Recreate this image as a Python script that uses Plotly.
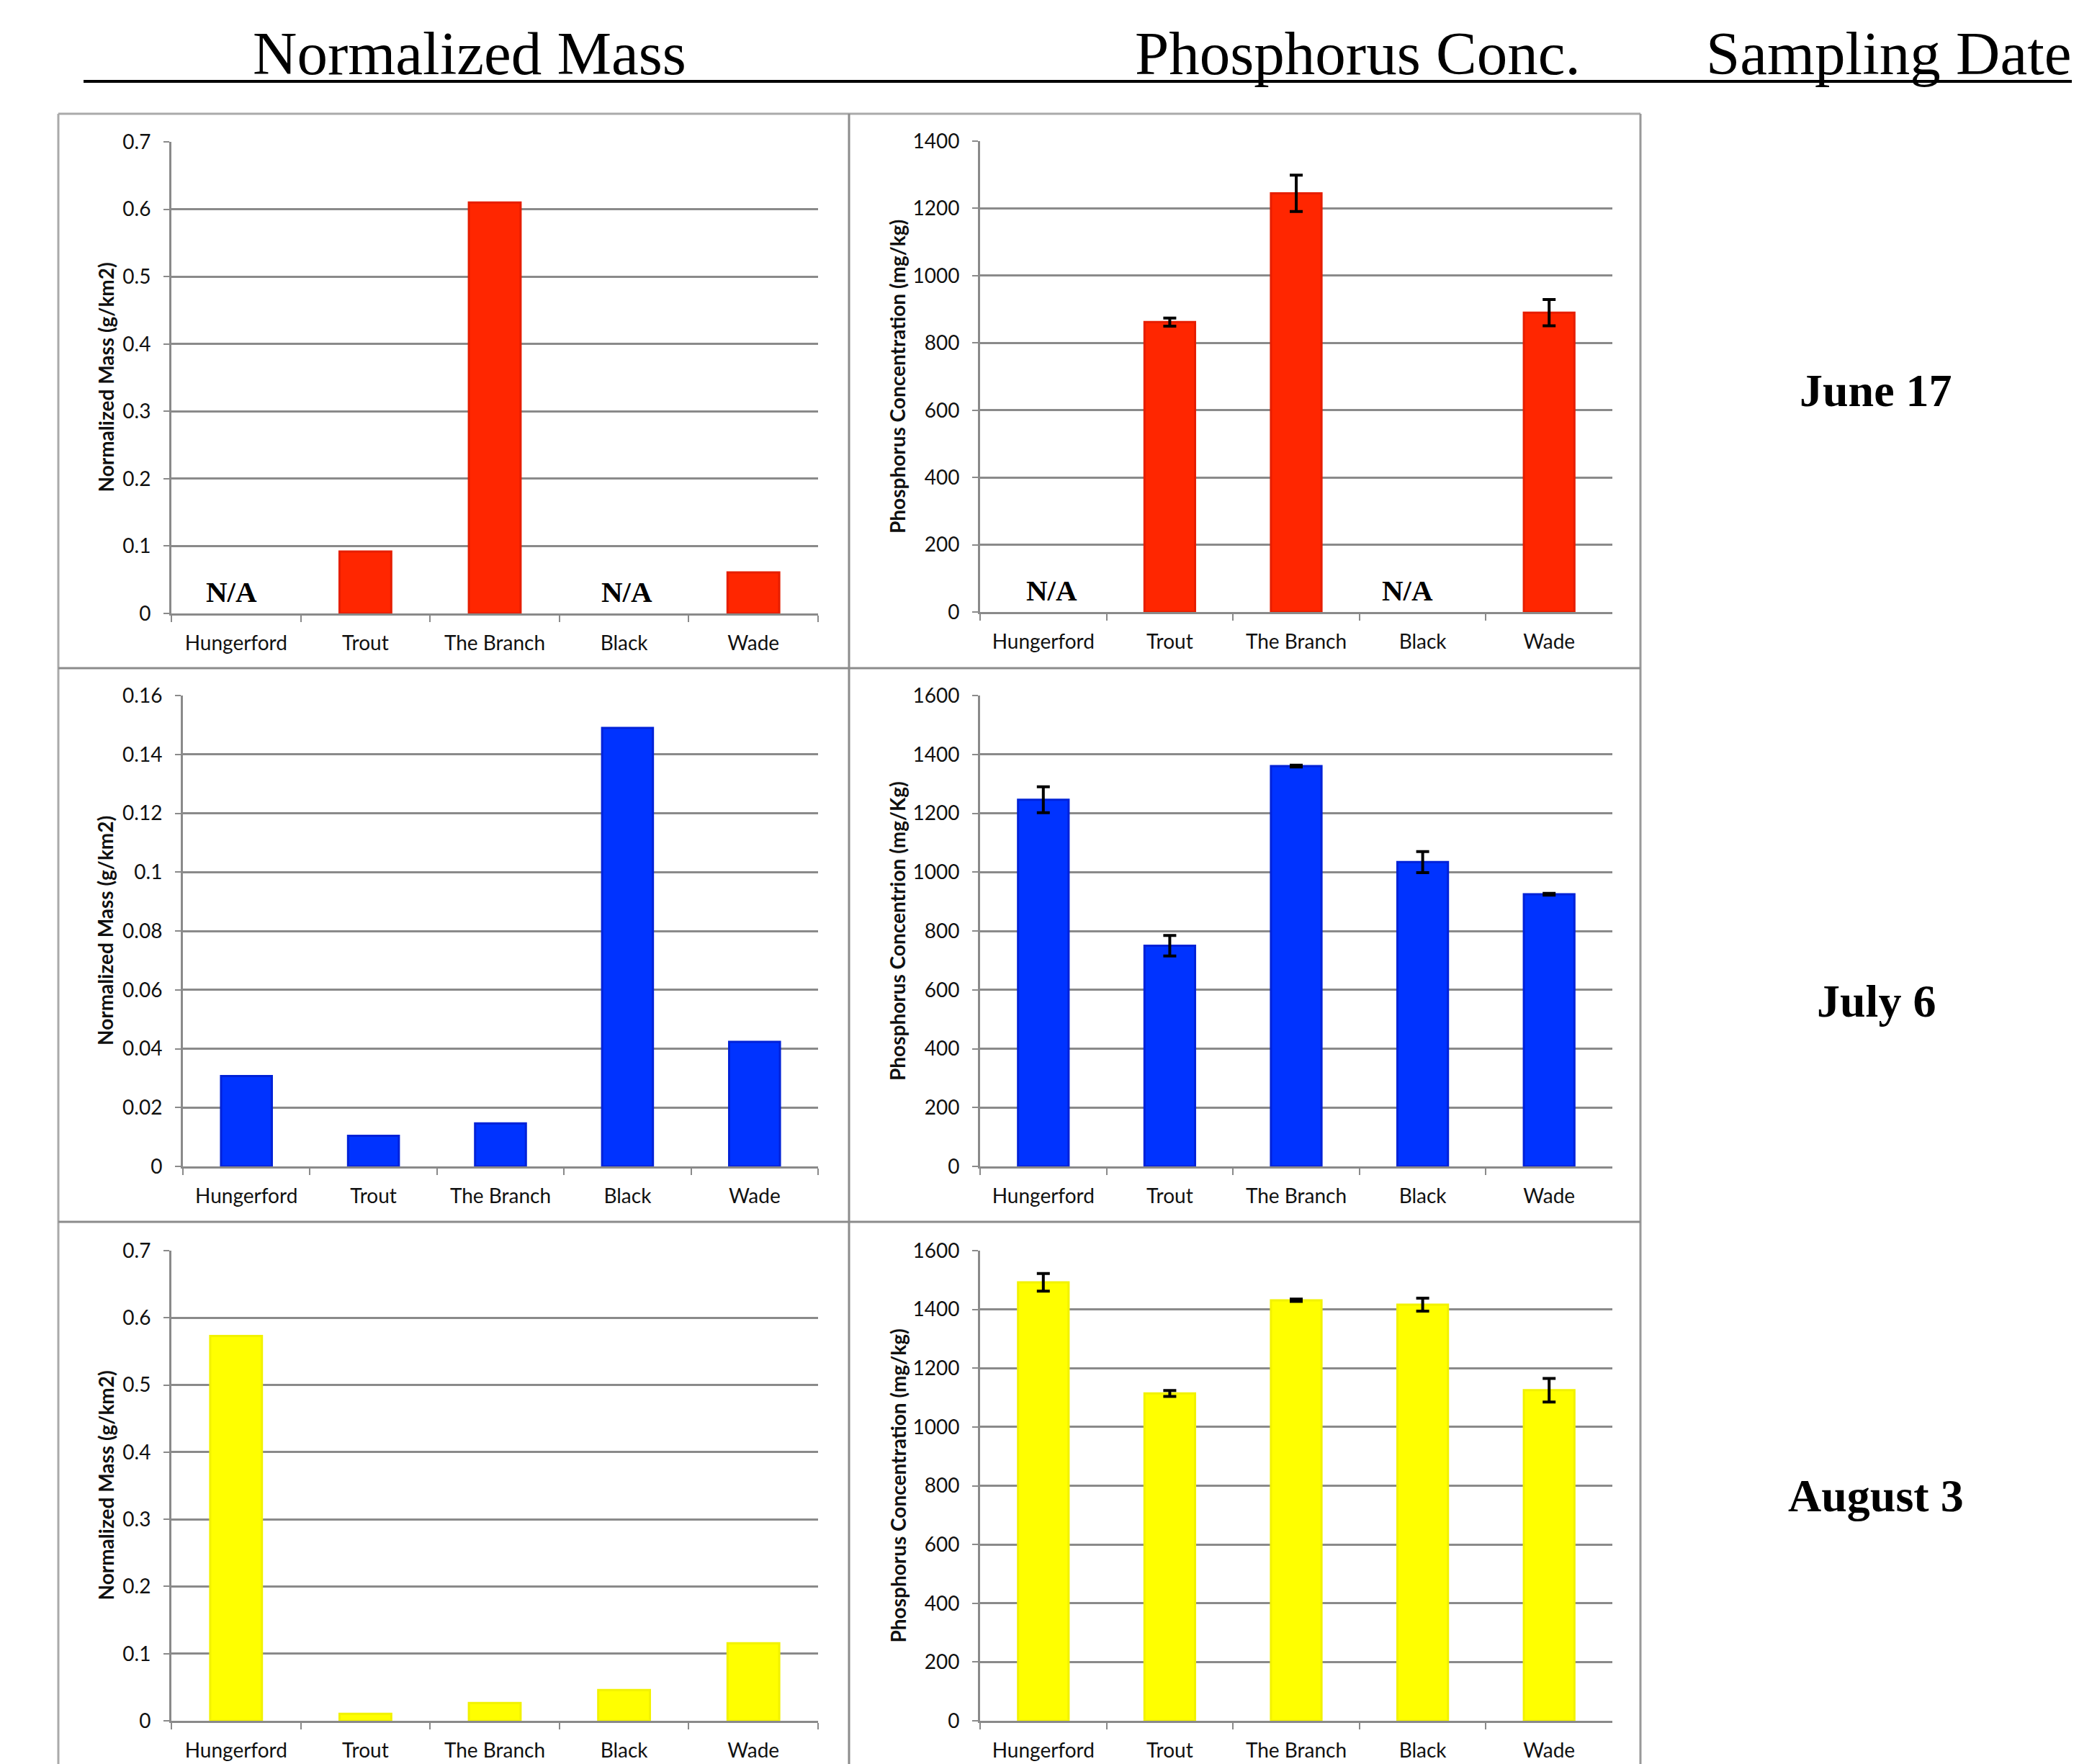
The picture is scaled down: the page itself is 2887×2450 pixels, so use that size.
import plotly.graph_objects as go

# ---------------- data ----------------
sites = ["Hungerford", "Trout", "The Branch", "Black", "Wade"]

mass_jun17 = [None, 0.092, 0.610, None, 0.061]
phos_jun17 = [None, 862, 1245, None, 890]
phos_jun17_err = [None, 12, 54, None, 39]

mass_jul6 = [0.0307, 0.0104, 0.0146, 0.149, 0.0423]
phos_jul6 = [1246, 750, 1360, 1034, 925]
phos_jul6_err = [44, 35, 3, 36, 3]

mass_aug3 = [0.573, 0.0104, 0.0265, 0.0458, 0.1155]
phos_aug3 = [1492, 1114, 1431, 1416, 1125]
phos_aug3_err = [30, 10, 4, 22, 40]

column_titles = ["Normalized Mass", "Phosphorus Conc.", "Sampling Date"]
dates = ["June 17", "July 6", "August 3"]
mass_title = "Normalized Mass (g/km2)"
phos_titles = ["Phosphorus Concentration (mg/kg)",
               "Phosphorus Concentrion (mg/Kg)",
               "Phosphorus Concentration (mg/kg)"]

# ---------------- layout helpers ----------------
W, H = 2887, 2450
def px(x):
    return x / W
def py(y):
    return 1 - y / H

RED = dict(fill="#FF2600", line="#E61E00")
BLUE = dict(fill="#0033FF", line="#0022D8")
YEL = dict(fill="#FFFF00", line="#F2F200")

GRID = "#8A8A8A"
TICKFONT = dict(family="Lato", size=28, color="#111111")
TITLEFONT = dict(family="Lato", size=28, color="#111111")

panels = [
    # (values, errors, colors, ymax, dtick, x0, x1, ytop, ybot, title, title_x, na_shifts)
    (mass_jun17, None, RED, 0.7, 0.1, 238, 1136, 197, 852, mass_title, 146, {0: -6, 3: 4}),
    (phos_jun17, phos_jun17_err, RED, 1400, 200, 1361, 2239, 196, 850, phos_titles[0], 1246, {0: 12, 3: -21}),
    (mass_jul6, None, BLUE, 0.16, 0.02, 254, 1136, 966, 1620, mass_title, 146, {}),
    (phos_jul6, phos_jul6_err, BLUE, 1600, 200, 1361, 2239, 966, 1620, phos_titles[1], 1246, {}),
    (mass_aug3, None, YEL, 0.7, 0.1, 238, 1136, 1737, 2390, mass_title, 146, {}),
    (phos_aug3, phos_aug3_err, YEL, 1600, 200, 1361, 2239, 1737, 2390, phos_titles[2], 1246, {}),
]

fig = go.Figure()
layout = dict(
    width=W, height=H,
    margin=dict(l=0, r=0, t=0, b=0, autoexpand=False),
    paper_bgcolor="white", plot_bgcolor="white",
    showlegend=False, bargap=0.6,
)
annotations = []

for i, (vals, errs, col, ymax, dt, x0, x1, yt, yb, ttl, tx, nash) in enumerate(panels):
    n = "" if i == 0 else str(i + 1)
    xa, ya = "x" + n, "y" + n
    trace = go.Bar(
        x=sites, y=vals, xaxis=xa, yaxis=ya,
        marker=dict(color=col["fill"], line=dict(color=col["line"], width=3)),
        width=0.4,
    )
    if errs is not None:
        trace.error_y = dict(type="data", array=errs, visible=True,
                             color="black", thickness=4, width=9)
    fig.add_trace(trace)
    layout["xaxis" + n] = dict(
        domain=[px(x0), px(x1)], anchor=ya, type="category",
        range=[-0.5, 4.5], showline=True, linecolor=GRID, linewidth=3,
        ticks="outside", tickson="boundaries", ticklen=9, tickwidth=2,
        tickcolor=GRID, showgrid=False, tickfont=TICKFONT,
        ticklabelstandoff=14, fixedrange=True, automargin=False,
    )
    layout["yaxis" + n] = dict(
        domain=[py(yb), py(yt)], anchor=xa, range=[0, ymax], dtick=dt,
        tick0=0, showline=True, linecolor=GRID, linewidth=3,
        ticks="outside", ticklen=8, tickwidth=2, tickcolor=GRID,
        showgrid=True, gridcolor=GRID, gridwidth=3, zeroline=False,
        tickfont=TICKFONT, ticklabelstandoff=12, fixedrange=True,
        automargin=False,
    )
    annotations.append(dict(
        text="<b>" + ttl + "</b>", xref="paper", yref="paper",
        x=px(tx), y=py((yt + yb) / 2), textangle=-90, showarrow=False,
        font=TITLEFONT, xanchor="center", yanchor="middle",
    ))
    # N/A markers for missing values
    for k, v in enumerate(vals):
        if v is None:
            annotations.append(dict(
                text="<b>N/A</b>", xref=xa, yref=ya, x=sites[k], y=0,
                yanchor="bottom", xanchor="center", yshift=5,
                xshift=nash.get(k, 0), showarrow=False,
                font=dict(family="Liberation Serif", size=41, color="black"),
            ))

# column headers
head_x = [652, 1885, 2623]
for t, hx in zip(column_titles, head_x):
    annotations.append(dict(
        text=t, xref="paper", yref="paper", x=px(hx), y=py(74),
        xanchor="center", yanchor="middle", showarrow=False,
        font=dict(family="Liberation Serif", size=85, color="black"),
    ))

# sampling dates
date_y = [542, 1390, 2077]
for d, dy in zip(dates, date_y):
    annotations.append(dict(
        text="<b>" + d + "</b>", xref="paper", yref="paper", x=px(2605),
        y=py(dy), xanchor="center", yanchor="middle", showarrow=False,
        font=dict(family="Liberation Serif", size=64, color="black"),
    ))

layout["annotations"] = annotations

shapes = [
    # header underline
    dict(type="line", xref="paper", yref="paper", x0=px(116), x1=px(2877),
         y0=py(113), y1=py(113), line=dict(color="black", width=4)),
    # outer frame
    dict(type="line", xref="paper", yref="paper", x0=px(81), x1=px(2278),
         y0=py(158), y1=py(158), line=dict(color="#AAAAAA", width=3)),
    dict(type="line", xref="paper", yref="paper", x0=px(81), x1=px(81),
         y0=py(158), y1=py(2460), line=dict(color="#AAAAAA", width=3)),
    dict(type="line", xref="paper", yref="paper", x0=px(2278), x1=px(2278),
         y0=py(158), y1=py(2460), line=dict(color="#999999", width=3)),
    # inner dividers
    dict(type="line", xref="paper", yref="paper", x0=px(1179), x1=px(1179),
         y0=py(158), y1=py(2460), line=dict(color="#8C8C8C", width=3)),
    dict(type="line", xref="paper", yref="paper", x0=px(81), x1=px(2278),
         y0=py(928), y1=py(928), line=dict(color="#8C8C8C", width=3)),
    dict(type="line", xref="paper", yref="paper", x0=px(81), x1=px(2278),
         y0=py(1697), y1=py(1697), line=dict(color="#8C8C8C", width=3)),
]
layout["shapes"] = shapes

fig.update_layout(**layout)
fig.write_html("out.html", config={"displayModeBar": False},
               post_script="document.body.style.margin='0';")
